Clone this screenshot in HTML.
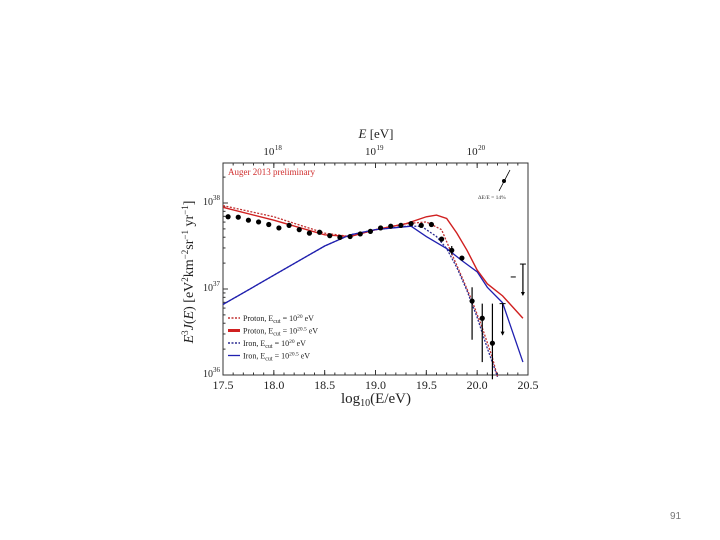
<!DOCTYPE html>
<html><head><meta charset="utf-8"><style>
html,body{margin:0;padding:0;background:#fff;width:720px;height:540px;overflow:hidden}
svg{display:block}
text{font-family:"Liberation Serif",serif}
</style></head><body>
<svg width="720" height="540">
<g id="plot"></g>
<text x="670" y="519" font-size="10" fill="#777" style="font-family:'Liberation Sans',sans-serif">91</text>
</svg>
<script>
const dataX=[17.55,17.65,17.75,17.85,17.95,18.05,18.15,18.25,18.35,18.45,18.55,18.65,18.75,18.85,18.95,19.05,19.15,19.25,19.35,19.45,19.55,19.65,19.75,19.85,19.95,20.05,20.15];
const dataY=[37.84,37.835,37.80,37.78,37.75,37.71,37.74,37.69,37.65,37.66,37.62,37.60,37.61,37.64,37.67,37.71,37.73,37.74,37.76,37.74,37.75,37.58,37.45,37.36,36.86,36.66,36.37];
const errX=[19.75,19.95,20.05,20.15];
const errLo=[37.40,36.41,36.15,35.95];
const errHi=[37.50,37.02,36.83,36.83];
const limX=[20.25,20.45];
const limHi=[36.83,37.29];
const limLo=[36.47,36.93];
const pdX=[17.5,18.0,18.5,18.75,19.0,19.3,19.5,19.65,19.75,19.85,19.95,20.05,20.15,20.2];
const pdY=[37.97,37.84,37.65,37.61,37.69,37.76,37.78,37.69,37.41,37.14,36.86,36.55,36.20,35.98];
const psX=[17.5,18.0,18.5,18.75,19.0,19.3,19.5,19.6,19.7,19.8,19.9,20.0,20.1,20.25,20.45];
const psY=[37.95,37.80,37.63,37.61,37.69,37.76,37.84,37.86,37.82,37.65,37.45,37.22,37.06,36.92,36.66];
const idX=[17.5,18.0,18.5,18.75,19.0,19.3,19.45,19.6,19.7,19.8,19.9,20.0,20.1,20.2];
const idY=[36.82,37.16,37.50,37.63,37.69,37.73,37.73,37.61,37.47,37.25,36.98,36.67,36.31,35.98];
const isX=[17.5,18.0,18.5,18.75,19.0,19.35,19.5,19.7,19.85,20.0,20.1,20.25,20.45];
const isY=[36.82,37.16,37.50,37.63,37.69,37.73,37.61,37.47,37.33,37.20,37.02,36.84,36.15];
const xTicks=[17.5,18.0,18.5,19.0,19.5,20.0,20.5];
const topTicks=[18,19,20];

const L=223,R=528,T=163,B=375;
const sx=v=>L+(v-17.5)/3*(R-L);
const sy=v=>375-(v-36)*86;
const NS="http://www.w3.org/2000/svg";
const g=document.getElementById('plot');
function el(t,a,p){const e=document.createElementNS(NS,t);for(const k in a)e.setAttribute(k,a[k]);(p||g).appendChild(e);return e;}

let ax=el('rect',{x:L,y:T,width:R-L,height:B-T,fill:'none',stroke:'#333','stroke-width':1});


xTicks.forEach(v=>{
  const x=sx(v);
  el('line',{x1:x,x2:x,y1:B,y2:B-5,stroke:'#333'});
  const t=el('text',{x:x,y:B+14,'font-size':12,'text-anchor':'middle',fill:'#222'});t.textContent=v.toFixed(1);
  
  
});
for(let v=17.6;v<20.5;v+=0.1){const x=sx(v);el('line',{x1:x,x2:x,y1:B,y2:B-2.5,stroke:'#333'});el('line',{x1:x,x2:x,y1:T,y2:T+2.5,stroke:'#333'});}
topTicks.forEach(v=>{
  const x=sx(v);
  el('line',{x1:x,x2:x,y1:T,y2:T+5,stroke:'#333'});
  const t=el('text',{x:x-5,y:T-8,'font-size':11,'text-anchor':'middle',fill:'#222'});t.textContent='10';
  const s=el('text',{x:x+1,y:T-13,'font-size':7,fill:'#222'});s.textContent=v;
  
  
});
[36,37,38].forEach(v=>{
  const y=sy(v);
  el('line',{x1:L,x2:L+5,y1:y,y2:y,stroke:'#333'});
  const t=el('text',{x:L-10,y:y+2,'font-size':10,'text-anchor':'end',fill:'#222'});t.textContent='10';
  const s=el('text',{x:L-10,y:y-3,'font-size':7,fill:'#222'});s.textContent=v;
  
  
});
for(let d=36;d<38.5;d++)for(let m=2;m<10;m++){const v=d+Math.log10(m);if(v>38.47)continue;const y=sy(v);el('line',{x1:L,x2:L+2.5,y1:y,y2:y,stroke:'#333'});}

function line(xs,ys,col,w,dash,name){
  const p=el('polyline',{points:xs.map((x,i)=>sx(x)+','+sy(ys[i])).join(' '),fill:'none',stroke:col,'stroke-width':w,'stroke-dasharray':dash||'none'});
  
  
}
line(pdX,pdY,'#c03030',1.3,'2,1.5','proton-20-dashed');
line(idX,idY,'#2a2a90',1.3,'2,1.5','iron-20-dashed');
line(psX,psY,'#d02020',1.4,null,'proton-20-5-line');
line(isX,isY,'#2020b0',1.3,null,'iron-20-5-line');

errX.forEach((x,i)=>{const l=el('line',{x1:sx(x),x2:sx(x),y1:sy(errLo[i]),y2:sy(errHi[i]),stroke:'#000','stroke-width':1.2});
 
 });
limX.forEach((x,i)=>{
 el('line',{x1:sx(x),x2:sx(x),y1:sy(limHi[i]),y2:sy(limLo[i]),stroke:'#000','stroke-width':1.2});
 el('line',{x1:sx(x)-3,x2:sx(x)+3,y1:sy(limHi[i]),y2:sy(limHi[i]),stroke:'#000'});
 const a=el('path',{d:`M${sx(x)-2},${sy(limLo[i])-3}L${sx(x)+2},${sy(limLo[i])-3}L${sx(x)},${sy(limLo[i])+1}Z`,fill:'#000'});
 
 
});
el('line',{x1:sx(20.33),x2:sx(20.38),y1:sy(37.14),y2:sy(37.14),stroke:'#000'});
dataX.forEach((x,i)=>{const c=el('circle',{cx:sx(x),cy:sy(dataY[i]),r:2.6,fill:'#000'});
 
 });

let t=el('text',{x:L+5,y:T+12,'font-size':9,fill:'#d03030'});t.textContent='Auger 2013 preliminary';


el('line',{x1:499,x2:510,y1:191,y2:170,stroke:'#000','stroke-width':0.8});
el('circle',{cx:504,cy:181,r:2,fill:'#000'});
t=el('text',{x:478,y:199,'font-size':5.5,fill:'#333'});t.textContent='ΔE/E = 14%';



const leg=[['#c03030','2,1.5','Proton, E','20'],['#d02020',null,'Proton, E','20.5'],['#2a2a90','2,1.5','Iron, E','20'],['#2020b0',null,'Iron, E','20.5']];
leg.forEach((l,i)=>{
  const y=318+i*12.5;
  el('line',{x1:228,x2:240,y1:y,y2:y,stroke:l[0],'stroke-width':l[1]?1.5:(i==1?3:1.3),'stroke-dasharray':l[1]||'none'});
  const tx=el('text',{x:243,y:y+3,'font-size':8,fill:'#222'});
  tx.innerHTML=l[2]+'<tspan font-size="6" dy="2">cut</tspan><tspan dy="-2"> = 10</tspan><tspan font-size="5.5" dy="-3">'+l[3]+'</tspan><tspan dy="3"> eV</tspan>';
  
  
});

t=el('text',{x:376,y:403,'font-size':15,'text-anchor':'middle',fill:'#222'});
t.innerHTML='log<tspan font-size="10" dy="3">10</tspan><tspan dy="-3">(E/eV)</tspan>';


t=el('text',{x:376,y:138,'font-size':13,'text-anchor':'middle',fill:'#222'});
t.innerHTML='<tspan font-style="italic">E</tspan> [eV]';


t=el('text',{x:0,y:0,'font-size':14,'text-anchor':'middle',fill:'#222',transform:'translate(193,272) rotate(-90)'});
t.innerHTML='<tspan font-style="italic">E</tspan><tspan font-size="9" dy="-5">3</tspan><tspan dy="5" font-style="italic">J</tspan>(<tspan font-style="italic">E</tspan>) [eV<tspan font-size="9" dy="-5">2</tspan><tspan dy="5">km</tspan><tspan font-size="9" dy="-5">−2</tspan><tspan dy="5">sr</tspan><tspan font-size="9" dy="-5">−1</tspan><tspan dy="5"> yr</tspan><tspan font-size="9" dy="-5">−1</tspan><tspan dy="5">]</tspan>';


</script>
</body></html>
